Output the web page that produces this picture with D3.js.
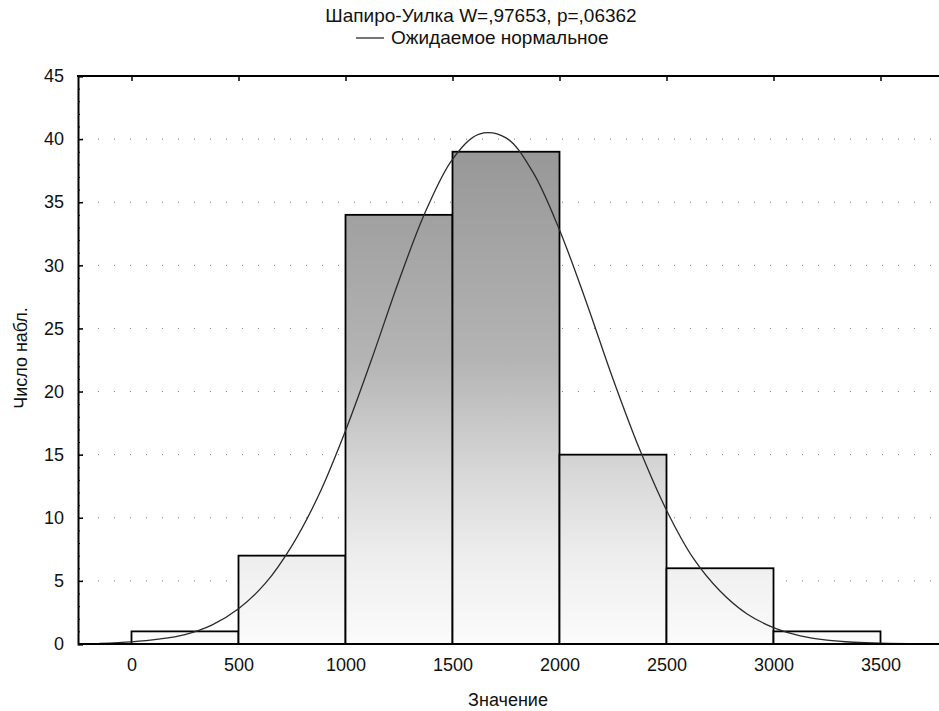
<!DOCTYPE html>
<html>
<head>
<meta charset="utf-8">
<script src="https://cdn.jsdelivr.net/npm/d3@7"></script>
<style>
  body { margin: 0; background: #fff; }
  text { font-family: "Liberation Sans", Arial, sans-serif; fill: #111; }
</style>
</head>
<body>
<div id="chart"></div>
<script>
// histogram bins and counts
var binLo  = [0, 500, 1000, 1500, 2000, 2500, 3000];
var binHi  = [500, 1000, 1500, 2000, 2500, 3000, 3500];
var counts = [1, 7, 34, 39, 15, 6, 1];

// expected normal curve
var normX = [-150, 0, 125, 250, 375, 500, 625, 750, 875, 1000, 1125, 1250, 1375, 1500, 1625, 1750,
             1875, 2000, 2125, 2250, 2375, 2500, 2625, 2750, 2875, 3000, 3125, 3250, 3375, 3500, 3750];
var normY = [0.05, 0.17, 0.38, 0.75, 1.5, 2.8, 4.8, 7.8, 11.8, 16.9, 22.7, 28.8, 34.3, 38.4, 40.4, 40.1,
             37.4, 32.8, 27.1, 21.0, 15.4, 10.6, 6.8, 4.2, 2.4, 1.3, 0.65, 0.31, 0.14, 0.06, 0.01];

var xTicks = [0, 500, 1000, 1500, 2000, 2500, 3000, 3500];
var yTicks = [0, 5, 10, 15, 20, 25, 30, 35, 40, 45];

var titleText  = "Шапиро-Уилка W=,97653, p=,06362";
var legendText = "Ожидаемое нормальное";
var xLabel = "Значение", yLabel = "Число набл.";

var W = 939, H = 711;
var margin = {top: 76, left: 78, bottom: 644, right: 934};
var fs = 18;

var svg = d3.select("#chart")
  .append("svg")
    .attr("width", W)
    .attr("height", H);

var x = d3.scaleLinear()
    .domain([-250, 3750])
    .range([margin.left, margin.right]);

var y = d3.scaleLinear()
    .domain([0, 45])
    .range([margin.bottom, margin.top]);

var defs = svg.append("defs");
var grad = defs.append("linearGradient")
    .attr("id", "barfill")
    .attr("gradientUnits", "userSpaceOnUse")
    .attr("x1", 0).attr("x2", 0)
    .attr("y1", y(45)).attr("y2", y(0));
[[0, "#8c8c8c"], [0.14, "#989898"], [0.5, "#b4b4b4"], [0.7, "#d8d8d8"], [0.85, "#eeeeee"], [1, "#fbfbfb"]]
  .forEach(function(s) {
    grad.append("stop").attr("offset", s[0]).attr("stop-color", s[1]);
  });

defs.append("clipPath").attr("id", "plotclip")
  .append("rect")
    .attr("x", margin.left).attr("y", margin.top)
    .attr("width", W - margin.left).attr("height", margin.bottom - margin.top);

// dotted gridlines
svg.append("g")
    .selectAll("line")
    .data(yTicks.filter(function(d) { return d > 0 && d < 45; }))
  .enter().append("line")
    .attr("x1", margin.left + 4).attr("x2", W)
    .attr("y1", function(d) { return y(d); })
    .attr("y2", function(d) { return y(d); })
    .attr("stroke", "#777")
    .attr("stroke-width", 1)
    .attr("stroke-dasharray", "1,15");

// bars
svg.append("g")
    .selectAll("rect")
    .data(counts)
  .enter().append("rect")
    .attr("x", function(d, i) { return x(binLo[i]); })
    .attr("width", function(d, i) { return x(binHi[i]) - x(binLo[i]); })
    .attr("y", function(d) { return y(d); })
    .attr("height", function(d) { return y(0) - y(d); })
    .attr("fill", "url(#barfill)")
    .attr("stroke", "#000")
    .attr("stroke-width", 1.8);

// normal curve
var line = d3.line()
    .x(function(d, i) { return x(normX[i]); })
    .y(function(d) { return y(d); })
    .curve(d3.curveCatmullRom);

svg.append("path")
    .datum(normY)
    .attr("clip-path", "url(#plotclip)")
    .attr("d", line)
    .attr("fill", "none")
    .attr("stroke", "#2a2a2a")
    .attr("stroke-width", 1.3);

// frame: left, top, bottom (right side runs off the picture)
svg.append("g")
    .attr("class", "y-axis")
    .attr("transform", "translate(" + margin.left + ",0)")
    .call(d3.axisLeft(y).tickValues(yTicks).tickSize(-5).tickPadding(14))
    .call(function(g) {
      g.select(".domain").attr("stroke-width", 2);
      g.selectAll(".tick line").attr("stroke-width", 1.5);
      g.selectAll(".tick text").attr("font-size", fs).attr("font-family", "Liberation Sans, Arial, sans-serif");
    });

svg.append("g")
    .attr("transform", "translate(" + margin.left + ",0)")
    .call(d3.axisLeft(y).ticks(45).tickSize(-2).tickFormat(""))
    .call(function(g) { g.select(".domain").remove(); });

svg.append("g")
    .attr("class", "x-axis")
    .attr("transform", "translate(0," + margin.bottom + ")")
    .call(d3.axisBottom(x).tickValues(xTicks).tickSize(0).tickPadding(14).tickFormat(d3.format("d")))
    .call(function(g) {
      g.select(".domain").remove();
      g.selectAll(".tick text").attr("font-size", fs).attr("font-family", "Liberation Sans, Arial, sans-serif");
    });

svg.append("g")
    .attr("transform", "translate(0," + margin.top + ")")
    .call(d3.axisTop(x).tickValues(xTicks).tickSize(-5).tickFormat(""))
    .call(function(g) {
      g.select(".domain").remove();
      g.selectAll(".tick line").attr("stroke-width", 1.5);
    });

svg.append("line")
    .attr("x1", margin.left).attr("x2", W)
    .attr("y1", margin.bottom).attr("y2", margin.bottom)
    .attr("stroke", "#000").attr("stroke-width", 2);

svg.append("line")
    .attr("x1", margin.left - 1).attr("x2", W)
    .attr("y1", margin.top).attr("y2", margin.top)
    .attr("stroke", "#000").attr("stroke-width", 2);

// titles
svg.append("text")
    .attr("x", 481).attr("y", 22)
    .attr("text-anchor", "middle")
    .attr("font-size", 19)
    .text(titleText);

svg.append("line")
    .attr("x1", 356).attr("x2", 384)
    .attr("y1", 38).attr("y2", 38)
    .attr("stroke", "#2a2a2a").attr("stroke-width", 1.3);

svg.append("text")
    .attr("x", 391).attr("y", 44)
    .attr("font-size", 19)
    .text(legendText);

svg.append("text")
    .attr("x", 508).attr("y", 706)
    .attr("text-anchor", "middle")
    .attr("font-size", fs)
    .text(xLabel);

svg.append("text")
    .attr("transform", "translate(27,358) rotate(-90)")
    .attr("text-anchor", "middle")
    .attr("font-size", fs)
    .text(yLabel);
</script>
</body>
</html>
